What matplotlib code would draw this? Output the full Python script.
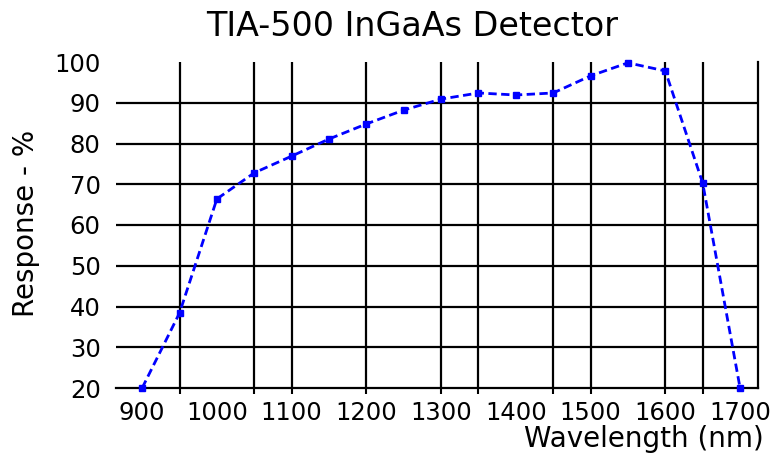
import matplotlib
matplotlib.use("Agg")
import matplotlib.pyplot as plt

# Data
wavelength_nm = [900, 950, 1000, 1050, 1100, 1150, 1200, 1250, 1300, 1350,
                 1400, 1450, 1500, 1550, 1600, 1650, 1700]
response_pct = [20, 38.4, 66.4, 72.8, 76.9, 81.1, 84.8, 88.2, 90.9, 92.4,
                91.9, 92.4, 96.6, 99.8, 97.8, 70.3, 20]

x_tick_values = [900, 1000, 1100, 1200, 1300, 1400, 1500, 1600, 1700]
x_grid_values = [950, 1050, 1100, 1200, 1300, 1350, 1450, 1500, 1600, 1650]
y_tick_values = [20, 30, 40, 50, 60, 70, 80, 90, 100]
y_grid_values = [30, 40, 50, 60, 70, 80, 90]

title_text = "TIA-500 InGaAs Detector"
x_label_text = "Wavelength (nm)"
y_label_text = "Response - %"

plt.rcParams['font.family'] = ['DejaVu Sans']

W, H = 771, 453
fig = plt.figure(figsize=(W / 100, H / 100), dpi=100)
ax = fig.add_axes([116 / W, 1 - 388 / H, (758 - 116) / W, (388 - 62) / H])

ax.set_xlim(865, 1724)
ax.set_ylim(20, 100)

ax.xaxis.remove_overlapping_locs = False
ax.yaxis.remove_overlapping_locs = False

ax.set_xticks(x_tick_values)
ax.set_xticklabels([str(v) for v in x_tick_values])
ax.set_xticks(x_grid_values, minor=True)
ax.set_yticks(y_tick_values)
ax.set_yticklabels([str(v) for v in y_tick_values])
ax.set_yticks(y_grid_values, minor=True)

ax.tick_params(axis='x', which='major', length=0, pad=9, labelsize=17.5)
ax.tick_params(axis='x', which='minor', length=4, width=1.5, direction='out', color='black')
ax.tick_params(axis='y', which='major', length=0, pad=11, labelsize=17.5)
ax.tick_params(axis='y', which='minor', length=0)

ax.grid(True, which='minor', axis='both', color='black', linewidth=1.6)
ax.grid(False, which='major')
ax.set_axisbelow(True)

for side in ('top', 'left'):
    ax.spines[side].set_visible(False)
for side in ('bottom', 'right'):
    ax.spines[side].set_color('black')
    ax.spines[side].set_linewidth(1.6)

ax.plot(wavelength_nm, response_pct, color='#0000ff', linestyle=(0, (3, 1.6)),
        linewidth=2.0, marker='s', markersize=5, clip_on=False, zorder=5)

fig.text(412 / W, 1 - 26 / H, title_text, ha='center', va='center', fontsize=24)
fig.text(764 / W, 1 - 439 / H, x_label_text, ha='right', va='center', fontsize=20)
fig.text(26 / W, 1 - 223 / H, y_label_text, ha='center', va='center',
         rotation=90, fontsize=20)

fig.savefig("out.png", dpi=100)
